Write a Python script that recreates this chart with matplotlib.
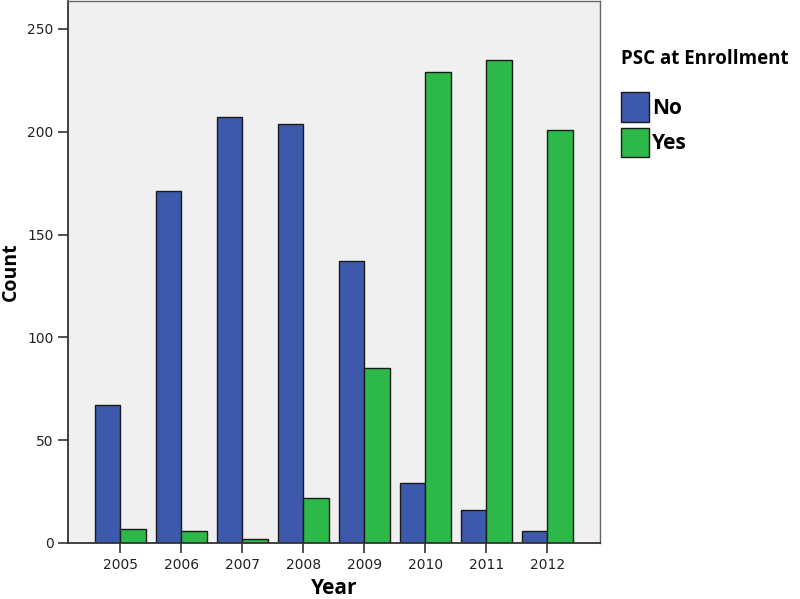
import matplotlib
matplotlib.use("Agg")
import matplotlib.pyplot as plt
import numpy as np

# Counts
years = ["2005", "2006", "2007", "2008", "2009", "2010", "2011", "2012"]
psc_no = [67, 171, 207, 204, 137, 29, 16, 6]
psc_yes = [7, 6, 2, 22, 85, 229, 235, 201]

x = np.arange(len(years))
width = 0.42

fig = plt.figure(figsize=(8.0, 5.99), dpi=100)
ax = fig.add_axes([0.0854, 0.0935, 0.6642, 0.9045])
ax.set_facecolor("#f0f0f0")

ax.bar(x - width / 2, psc_no, width, color="#3d59ab", edgecolor="#1a1a1a",
       linewidth=1.0, label="No", zorder=2)
ax.bar(x + width / 2, psc_yes, width, color="#2db84a", edgecolor="#1a1a1a",
       linewidth=1.0, label="Yes", zorder=2)

ax.set_xlim(-0.85, 7.86)
ax.set_ylim(0, 263.5)
ax.set_xticks(x, years)
ax.set_yticks([0, 50, 100, 150, 200, 250])
ax.tick_params(axis="both", direction="out", length=7, width=1.2,
               color="#333333", labelsize=10, labelcolor="#222222")
ax.tick_params(axis="x", pad=4)

for side in ["left", "bottom"]:
    ax.spines[side].set_color("#333333")
    ax.spines[side].set_linewidth(1.3)
for side in ["top", "right"]:
    ax.spines[side].set_color("#666666")
    ax.spines[side].set_linewidth(1.0)

ax.set_ylabel("Count", fontsize=14, fontweight="bold", family="Open Sans")
ax.yaxis.set_label_coords(-0.09, 0.5)
ax.set_xlabel("Year", fontsize=15, fontweight="bold", family="Open Sans", labelpad=4)

leg = ax.legend(loc="upper left", bbox_to_anchor=(1.024, 0.928), frameon=False,
                title="PSC at Enrollment", alignment="left",
                prop={"family": "Open Sans", "weight": "bold", "size": 15},
                handlelength=1.35, handleheight=1.8, handletextpad=0.15,
                labelspacing=0.3, borderaxespad=0.0)
leg.get_title().set_fontweight("bold")
leg.get_title().set_fontfamily("Open Sans")
leg.get_title().set_fontsize(13.5)
leg._legend_box.sep = 17

fig.savefig("out.png", dpi=100)
